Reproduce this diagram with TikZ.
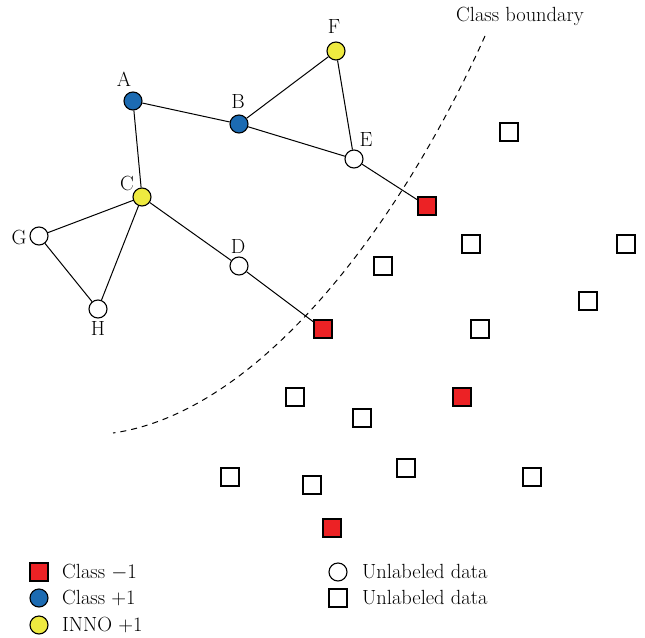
\documentclass[tikz,border=0pt]{standalone}
\usepackage{fontspec}
\usetikzlibrary{arrows.meta}
\definecolor{PosBlue}{RGB}{28,107,178}
\definecolor{InnoYellow}{RGB}{238,234,64}
\definecolor{NegRed}{RGB}{236,34,37}
\colorlet{edgecolor}{black}

\begin{document}
\begin{tikzpicture}[x=1pt, y=-1pt, font=\fontsize{20.5}{24}\selectfont,
    dotbase/.style = {draw, circle, line width = 1.1pt, minimum size = 18pt, inner sep = 0pt},
    boxbase/.style = {draw, rectangle, line width = 1.1pt, minimum size = 18pt, inner sep = 0pt},
    posdot/.style = {dotbase, fill = PosBlue},
    innodot/.style = {dotbase, fill = InnoYellow},
    freedot/.style = {dotbase, fill = white},
    negbox/.style = {boxbase, fill = NegRed},
    freebox/.style = {boxbase, fill = white},
    lbl/.style = {inner sep = 0pt},
    link/.style = {line width = 1pt, draw = edgecolor}]
      \useasboundingbox (0,0) rectangle (645,637);

      % graph part
      \node[posdot] at (133,101) (a) {};
      \node[posdot] at (239,124) (b) {};
      \node[innodot] at (142,197) (c) {};
      \node[freedot] at (239,266) (d) {};
      \node[freedot] at (354,159) (e) {};
      \node[innodot] at (336,51) (f) {};
      \node[freedot] at (39,236) (g) {};
      \node[freedot] at (98,309) (h) {};
      \node[negbox] at (427,206) (n1) {};
      \node[negbox] at (323,329) (n2) {};

      \node[lbl] at (124,79) {A};
      \node[lbl] at (238,101) {B};
      \node[lbl] at (127,183) {C};
      \node[lbl] at (238,246) {D};
      \node[lbl] at (366,140) {E};
      \node[lbl] at (334,27) {F};
      \node[lbl] at (19,237) {G};
      \node[lbl] at (98,328) {H};

      \draw[link] (a) -- (b);
      \draw[link] (a) -- (c);
      \draw[link] (b) -- (f);
      \draw[link] (b) -- (e);
      \draw[link] (f) -- (e);
      \draw[link] (e) -- (n1);
      \draw[link] (c) -- (g);
      \draw[link] (c) -- (h);
      \draw[link] (g) -- (h);
      \draw[link] (c) -- (d);
      \draw[link] (d) -- (n2);

      % other data
      \node[freebox] at (509,132) (u1) {};
      \node[freebox] at (471,244) (u2) {};
      \node[freebox] at (626,244) (u3) {};
      \node[freebox] at (383,266) (u4) {};
      \node[freebox] at (588,301) (u5) {};
      \node[freebox] at (480,329) (u6) {};
      \node[freebox] at (295,397) (u7) {};
      \node[negbox] at (462,397) (n3) {};
      \node[freebox] at (362,418) (u8) {};
      \node[freebox] at (406,468) (u9) {};
      \node[freebox] at (230,477) (u10) {};
      \node[freebox] at (312,485) (u11) {};
      \node[freebox] at (532,477) (u12) {};
      \node[negbox] at (332,528) (n4) {};

      % boundary
      \coordinate (bt) at (485,36);
      \coordinate (bb) at (113,433);
      \draw[line width = 1pt, dash pattern = on 6pt off 5pt] (bt) .. controls (400,225) and (260,412) .. (bb);
      \node[lbl] at (520,16) (bl) {Class boundary};

      % legend
      \node[negbox] at (39,572) (k1) {};
      \node[posdot] at (39,598) (k2) {};
      \node[innodot] at (39,625) (k3) {};
      \node[freedot] at (338,572) (k4) {};
      \node[freebox] at (338,598) (k5) {};
      \node[lbl, anchor = west] at (62,572) {Class $-1$};
      \node[lbl, anchor = west] at (62,598) {Class +1};
      \node[lbl, anchor = west] at (62,625) {INNO +1};
      \node[lbl, anchor = west] at (362,572) {Unlabeled data};
      \node[lbl, anchor = west] at (362,598) {Unlabeled data};
    \end{tikzpicture}
\end{document}
